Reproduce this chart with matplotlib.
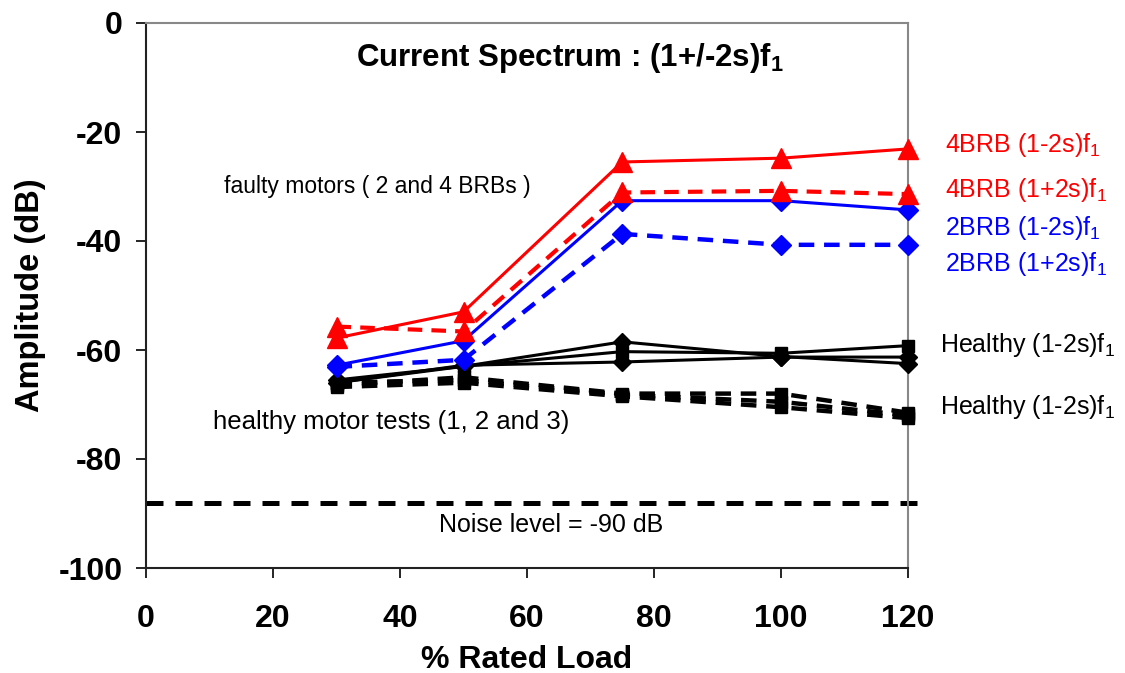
import matplotlib
matplotlib.use("Agg")
import matplotlib.pyplot as plt

plt.rcParams['font.family'] = ['Liberation Sans', 'DejaVu Sans']
plt.rcParams['mathtext.fontset'] = 'custom'
plt.rcParams['mathtext.rm'] = 'Liberation Sans'
plt.rcParams['mathtext.bf'] = 'Liberation Sans:bold'
plt.rcParams['mathtext.it'] = 'Liberation Sans:italic'
plt.rcParams['axes.unicode_minus'] = False

# Data
load = [30, 50, 75, 100, 120]
brb4_minus = [-57.8, -53.0, -25.5, -24.8, -23.1]
brb4_plus = [-55.7, -56.6, -31.1, -30.8, -31.4]
brb2_minus = [-62.8, -58.3, -32.6, -32.6, -34.3]
brb2_plus = [-63.1, -61.8, -38.7, -40.7, -40.7]
healthy_minus_1 = [-66.0, -63.0, -60.3, -60.6, -59.2]
healthy_minus_2 = [-65.5, -63.0, -58.5, -61.2, -62.5]
healthy_minus_3 = [-66.0, -62.8, -62.2, -61.3, -61.3]
healthy_plus_1 = [-66.5, -65.0, -68.0, -68.0, -71.5]
healthy_plus_2 = [-66.0, -65.5, -68.2, -69.5, -72.0]
healthy_plus_3 = [-66.8, -66.0, -68.5, -70.5, -72.5]
noise_level = -88
noise_x = [0, 121.5]

x_ticks = [0, 20, 40, 60, 80, 100, 120]
y_ticks = [0, -20, -40, -60, -80, -100]

fig = plt.figure(figsize=(11.25, 6.73), dpi=100)
ax = fig.add_axes([146/1125, 1-568/673, (908-146)/1125, (568-23)/673])

red = '#ff0000'
blue = '#0000ff'

ax.plot(noise_x, [noise_level, noise_level], color='black', lw=3.6,
        dashes=(3.4, 2.4), clip_on=False, zorder=2)

# healthy dashed
for ys, mk in [(healthy_plus_1, 's'), (healthy_plus_2, 's'), (healthy_plus_3, 's')]:
    ax.plot(load, ys, color='black', lw=3.2, dashes=(3.5, 2.2), marker=mk,
            markersize=8, clip_on=False, zorder=3)
# healthy solid
ax.plot(load, healthy_minus_1, color='black', lw=2.2, marker='s', markersize=8, clip_on=False, zorder=4)
ax.plot(load, healthy_minus_2, color='black', lw=2.2, marker='D', markersize=9, clip_on=False, zorder=4)
ax.plot(load, healthy_minus_3, color='black', lw=2.2, marker='D', markersize=9, clip_on=False, zorder=4)

ax.plot(load, brb2_plus, color=blue, lw=3.2, dashes=(3.5, 2.2), marker='D', markersize=10, clip_on=False, zorder=5)
ax.plot(load, brb2_minus, color=blue, lw=2.2, marker='D', markersize=10, clip_on=False, zorder=5)
ax.plot(load, brb4_plus, color=red, lw=3.0, dashes=(3.5, 2.2), marker='^', markersize=15, clip_on=False, zorder=6)
ax.plot(load, brb4_minus, color=red, lw=2.2, marker='^', markersize=15, clip_on=False, zorder=6)

ax.set_xlim(0, 120)
ax.set_ylim(-100, 0)
ax.set_xticks(x_ticks)
ax.set_yticks(y_ticks)
ax.tick_params(direction='out', length=7, width=1.2, labelsize=23)
ax.tick_params(axis='x', pad=19)
ax.tick_params(axis='y', pad=10)
for lab in ax.get_xticklabels() + ax.get_yticklabels():
    lab.set_fontweight('bold')

ax.spines['left'].set_color('#222222')
ax.spines['bottom'].set_color('#222222')
ax.spines['top'].set_color('#888888')
ax.spines['right'].set_color('#888888')
for s in ax.spines.values():
    s.set_linewidth(1.5)

ax.set_xlabel('% Rated Load', fontsize=23, fontweight='bold', labelpad=8)
ax.set_ylabel('Amplitude (dB)', fontsize=23.5, fontweight='bold', labelpad=9)

ax.text(0.557, 0.935, r'Current Spectrum : (1+/-2s)$\mathbf{f_1}$', transform=ax.transAxes,
        fontsize=22.5, fontweight='bold', ha='center', va='center')
ax.text(0.103, 0.70, 'faulty motors ( 2 and 4 BRBs )', transform=ax.transAxes,
        fontsize=16.5, ha='left', va='center')
ax.text(0.088, 0.267, 'healthy motor tests (1, 2 and 3)', transform=ax.transAxes,
        fontsize=18.5, ha='left', va='center')
ax.text(0.532, 0.079, 'Noise level = -90 dB', transform=ax.transAxes,
        fontsize=18, ha='center', va='center')

right_labels = [
    ('4BRB (1-2s)$\\mathregular{f_1}$', red, 945, 145),
    ('4BRB (1+2s)$\\mathregular{f_1}$', red, 945, 190),
    ('2BRB (1-2s)$\\mathregular{f_1}$', blue, 945, 228),
    ('2BRB (1+2s)$\\mathregular{f_1}$', blue, 945, 264),
    ('Healthy (1-2s)$\\mathregular{f_1}$', 'black', 940, 345),
    ('Healthy (1-2s)$\\mathregular{f_1}$', 'black', 940, 407),
]
for txt, col, px, py in right_labels:
    fig.text(px/1125, 1-py/673, txt, color=col, fontsize=18, ha='left', va='center')

fig.savefig('out.png', dpi=100)
